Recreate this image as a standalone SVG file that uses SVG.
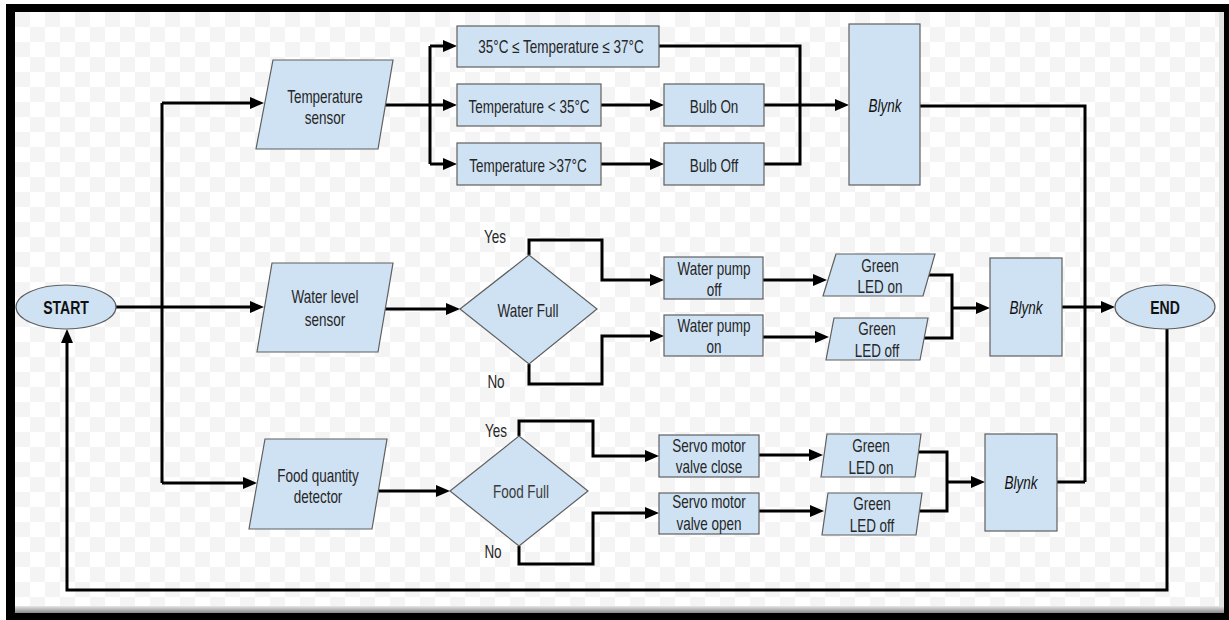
<svg xmlns="http://www.w3.org/2000/svg" width="1229" height="620" viewBox="0 0 1229 620">
<defs>
<pattern id="chk" x="15" y="12" width="30" height="30" patternUnits="userSpaceOnUse">
<rect width="30" height="30" fill="#ffffff"/>
<rect width="15" height="15" fill="#f4f4f4"/>
<rect x="15" y="15" width="15" height="15" fill="#f4f4f4"/>
</pattern>
<linearGradient id="shade" x1="0" y1="0" x2="0" y2="1">
<stop offset="0" stop-color="#e6e6e6"/>
<stop offset="1" stop-color="#8a8a8a"/>
</linearGradient>
<marker id="ah" markerWidth="14" markerHeight="12" refX="4" refY="6" orient="auto" markerUnits="userSpaceOnUse">
<path d="M0,0 L14,6 L0,12 z" fill="#000"/>
</marker>
</defs>
<style>
.sh{fill:#cfe2f3;stroke:#5f5f5f;stroke-width:1.2}
.t{font-family:"Liberation Sans",Arial,Helvetica,sans-serif;font-size:18px;fill:#262626;text-anchor:middle}
.b{font-weight:bold;fill:#111}
.i{font-style:italic;fill:#111}
.c{fill:none;stroke:#000;stroke-width:3}
.a{marker-end:url(#ah)}
</style>
<rect width="1229" height="620" fill="#fff"/>
<rect x="6" y="4" width="1223" height="616" fill="#000"/>
<rect x="15" y="12" width="1209" height="601" fill="url(#chk)"/>
<rect x="1219" y="12" width="5" height="601" fill="#e2e2e2"/>
<rect x="15" y="606" width="1209" height="7" fill="url(#shade)"/>

<g id="connectors">
<path class="c a" d="M116,307 H254"/>
<path class="c" d="M162,103 V483"/>
<path class="c a" d="M162,103 H254"/>
<path class="c a" d="M162,483 H247"/>
<path class="c a" d="M385,105 H447"/>
<path class="c" d="M430,46 V164"/>
<path class="c a" d="M430,46 H447"/>
<path class="c a" d="M430,164 H447"/>
<path class="c a" d="M601,105 H654"/>
<path class="c a" d="M601,164 H654"/>
<path class="c" d="M659,46 H800 V164 H764"/>
<path class="c a" d="M764,105 H839"/>
<path class="c" d="M920,106 H1085 V482"/>
<path class="c" d="M1057,482 H1085"/>
<path class="c a" d="M385,309 H450"/>
<path class="c a" d="M529,255 V240 H602 V280 H654"/>
<path class="c a" d="M529,364 V384 H602 V336 H654"/>
<path class="c a" d="M763,280 H817"/>
<path class="c a" d="M763,337 H819"/>
<path class="c" d="M928,275 H952 V338 H924"/>
<path class="c a" d="M952,308 H980"/>
<path class="c a" d="M1062,307 H1105"/>
<path class="c a" d="M1167,329 V590 H67 V339"/>
<path class="c a" d="M379,491 H440"/>
<path class="c a" d="M519,436 V421 H593 V456 H649"/>
<path class="c a" d="M519,546 V564 H593 V513 H649"/>
<path class="c a" d="M759,455 H813"/>
<path class="c a" d="M759,511 H814"/>
<path class="c" d="M918,452 H947 V511 H919"/>
<path class="c a" d="M947,482 H975"/>
</g>

<g id="start">
<ellipse class="sh" cx="66" cy="307" rx="50" ry="22"/>
<text class="t b" transform="translate(66,314) scale(0.78,1)">START</text>
</g>
<g id="end">
<ellipse class="sh" cx="1165" cy="307" rx="50" ry="22"/>
<text class="t b" transform="translate(1165,314) scale(0.78,1)">END</text>
</g>

<g id="temp-sensor">
<polygon class="sh" points="273,60 393,60 378,149 256,149"/>
<text class="t" transform="translate(325,103) scale(0.75,1)">Temperature</text>
<text class="t" transform="translate(325,124) scale(0.75,1)">sensor</text>
</g>
<g id="temp-normal">
<rect class="sh" x="457" y="26" width="202" height="41"/>
<text class="t" transform="translate(561,53) scale(0.75,1)">35°C ≤ Temperature ≤ 37°C</text>
</g>
<g id="temp-low">
<rect class="sh" x="457" y="84" width="144" height="42"/>
<text class="t" transform="translate(529,113) scale(0.75,1)">Temperature &lt; 35°C</text>
</g>
<g id="temp-high">
<rect class="sh" x="457" y="143" width="144" height="42"/>
<text class="t" transform="translate(528,172) scale(0.75,1)">Temperature &gt;37°C</text>
</g>
<g id="bulb-on">
<rect class="sh" x="664" y="84" width="100" height="42"/>
<text class="t" transform="translate(714,113) scale(0.75,1)">Bulb On</text>
</g>
<g id="bulb-off">
<rect class="sh" x="664" y="143" width="100" height="42"/>
<text class="t" transform="translate(714,172) scale(0.75,1)">Bulb Off</text>
</g>
<g id="blynk-1">
<rect class="sh" x="849" y="24" width="71" height="161"/>
<text class="t i" transform="translate(885,112) scale(0.75,1)">Blynk</text>
</g>

<g id="water-sensor">
<polygon class="sh" points="272,263 393,263 378,352 257,352"/>
<text class="t" transform="translate(325,303) scale(0.75,1)">Water level</text>
<text class="t" transform="translate(325,326) scale(0.75,1)">sensor</text>
</g>
<g id="water-full">
<polygon class="sh" points="460,309 529,255 597,309 529,364"/>
<text class="t" transform="translate(528,317) scale(0.75,1)">Water Full</text>
</g>
<g id="water-labels">
<text class="t" transform="translate(495,243) scale(0.75,1)">Yes</text>
<text class="t" transform="translate(496,388) scale(0.75,1)">No</text>
</g>
<g id="pump-off">
<rect class="sh" x="664" y="257" width="99" height="42"/>
<text class="t" transform="translate(714,275) scale(0.75,1)">Water pump</text>
<text class="t" transform="translate(714,296) scale(0.75,1)">off</text>
</g>
<g id="pump-on">
<rect class="sh" x="664" y="315" width="99" height="41"/>
<text class="t" transform="translate(714,332) scale(0.75,1)">Water pump</text>
<text class="t" transform="translate(714,353) scale(0.75,1)">on</text>
</g>
<g id="led-on-1">
<polygon class="sh" points="836,254 935,254 923,296 823,296"/>
<text class="t" transform="translate(880,272) scale(0.75,1)">Green</text>
<text class="t" transform="translate(880,293) scale(0.75,1)">LED on</text>
</g>
<g id="led-off-1">
<polygon class="sh" points="834,318 928,318 920,360 826,360"/>
<text class="t" transform="translate(877,335) scale(0.75,1)">Green</text>
<text class="t" transform="translate(877,357) scale(0.75,1)">LED off</text>
</g>
<g id="blynk-2">
<rect class="sh" x="990" y="258" width="72" height="98"/>
<text class="t i" transform="translate(1026,314) scale(0.75,1)">Blynk</text>
</g>

<g id="food-sensor">
<polygon class="sh" points="265,439 387,439 372,529 249,529"/>
<text class="t" transform="translate(318,482) scale(0.75,1)">Food quantity</text>
<text class="t" transform="translate(318,503) scale(0.75,1)">detector</text>
</g>
<g id="food-full">
<polygon class="sh" points="450,491 519,436 588,491 519,546"/>
<text class="t" style="fill:#3a3a3a" transform="translate(521,498) scale(0.75,1)">Food Full</text>
</g>
<g id="food-labels">
<text class="t" transform="translate(496,437) scale(0.75,1)">Yes</text>
<text class="t" transform="translate(493,558) scale(0.75,1)">No</text>
</g>
<g id="servo-close">
<rect class="sh" x="659" y="435" width="100" height="42"/>
<text class="t" transform="translate(709,452) scale(0.75,1)">Servo motor</text>
<text class="t" transform="translate(709,473) scale(0.75,1)">valve close</text>
</g>
<g id="servo-open">
<rect class="sh" x="659" y="493" width="100" height="41"/>
<text class="t" transform="translate(709,508) scale(0.75,1)">Servo motor</text>
<text class="t" transform="translate(709,530) scale(0.75,1)">valve open</text>
</g>
<g id="led-on-2">
<polygon class="sh" points="827,434 921,434 915,477 821,477"/>
<text class="t" transform="translate(871,452) scale(0.75,1)">Green</text>
<text class="t" transform="translate(871,474) scale(0.75,1)">LED on</text>
</g>
<g id="led-off-2">
<polygon class="sh" points="828,493 922,493 916,535 822,535"/>
<text class="t" transform="translate(872,510) scale(0.75,1)">Green</text>
<text class="t" transform="translate(872,532) scale(0.75,1)">LED off</text>
</g>
<g id="blynk-3">
<rect class="sh" x="985" y="434" width="72" height="97"/>
<text class="t i" transform="translate(1021,489) scale(0.75,1)">Blynk</text>
</g>
</svg>
